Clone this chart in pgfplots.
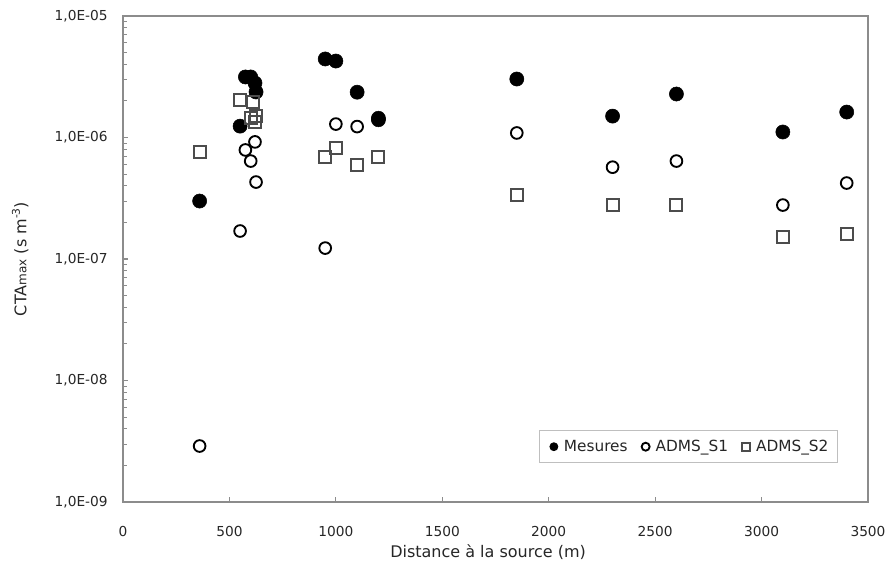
\documentclass[border=0pt]{standalone}
\usepackage{pgfplots}
\pgfplotsset{compat=1.18}
\usepackage{fontspec}
\setmainfont{DejaVu Sans}
\definecolor{framegray}{RGB}{140,140,140}
\begin{document}
\begin{tikzpicture}
\begin{axis}[
  scale only axis,
  width=558.75pt, height=364.5pt,
  ymode=log,
  xmin=0, xmax=3500, ymin=1e-9, ymax=1e-5,
  axis line style={framegray, line width=1.2pt},
  every tick/.style={framegray, line width=0.8pt},
  tick align=inside,
  major tick length=4pt, minor tick length=3pt,
  xtick={0,500,...,3500},
  ytick={1e-9,1e-8,1e-7,1e-6,1e-5},
  yticklabels={{1,0E-09},{1,0E-08},{1,0E-07},{1,0E-06},{1,0E-05}},
  xtick pos=bottom, ytick pos=left,
  /pgf/number format/assume math mode=true,
  /pgf/number format/1000 sep={},
  tick label style={font=\fontsize{10.3}{12}\selectfont, text=black!85},
  xticklabel style={yshift=-15pt},
  yticklabel style={xshift=-8pt},
  xlabel={Distance à la source (m)},
  ylabel={CTA{\fontsize{9}{10}\selectfont max} (s m\raisebox{0.75ex}{\fontsize{8}{9}\selectfont -3})},
  label style={font=\fontsize{12}{14}\selectfont, text=black!85},
  xlabel style={at={(axis description cs:0.49,-0.103)}, anchor=center},
  ylabel style={at={(axis description cs:-0.138,0.5)}, anchor=center},
  legend columns=3,
  legend style={at={(0.96,0.08)}, anchor=south east, font=\fontsize{11.5}{13}\selectfont, text=black!85, draw=black!25, line width=0.6pt, inner xsep=5pt, inner ysep=5pt, /tikz/every even column/.append style={column sep=6pt}},
  legend image code/.code={\path[draw=none] (0pt,0pt) -- (1.1em,0pt); \path[draw=none, #1, mark size=3pt] plot[only marks] coordinates {(0.55em,0pt)};},
]
\addplot[only marks, mark=*, mark size=5.3pt, mark options={fill=black, draw=black}] coordinates {
(360,3.0e-7) (550,1.24e-6) (575,3.15e-6) (600,3.15e-6) (620,2.81e-6) (625,2.37e-6)
(950,4.43e-6) (1000,4.26e-6) (1100,2.36e-6) (1200,1.44e-6) (1200,1.40e-6)
(1850,3.03e-6) (2300,1.5e-6) (2600,2.28e-6) (3100,1.11e-6) (3400,1.62e-6)
};
\addlegendentry{Mesures}
\addplot[only marks, mark=o, mark size=4.4pt, mark options={draw=black, line width=1.4pt, fill=white}] coordinates {
(360,2.89e-9) (550,1.70e-7) (575,7.9e-7) (600,6.4e-7) (620,9.2e-7) (625,4.3e-7)
(950,1.23e-7) (1000,1.29e-6) (1100,1.23e-6)
(1850,1.09e-6) (2300,5.7e-7) (2600,6.4e-7) (3100,2.78e-7) (3400,4.22e-7)
};
\addlegendentry{ADMS\_S1}
\addplot[only marks, mark=square, mark size=4.5pt, mark options={draw=black!70, line width=1.4pt}] coordinates {
(360,7.6e-7) (550,2.04e-6) (610,1.96e-6) (600,1.45e-6) (620,1.34e-6) (625,1.5e-6)
(950,6.87e-7) (1000,8.15e-7) (1100,5.94e-7) (1200,6.87e-7)
(1850,3.36e-7) (2300,2.78e-7) (2600,2.78e-7) (3100,1.52e-7) (3400,1.61e-7)
};
\addlegendentry{ADMS\_S2}
\end{axis}
\path (current axis.south west) ++(-92.25pt,-56.25pt) rectangle ++(669pt,432.75pt);
\end{tikzpicture}
\end{document}
